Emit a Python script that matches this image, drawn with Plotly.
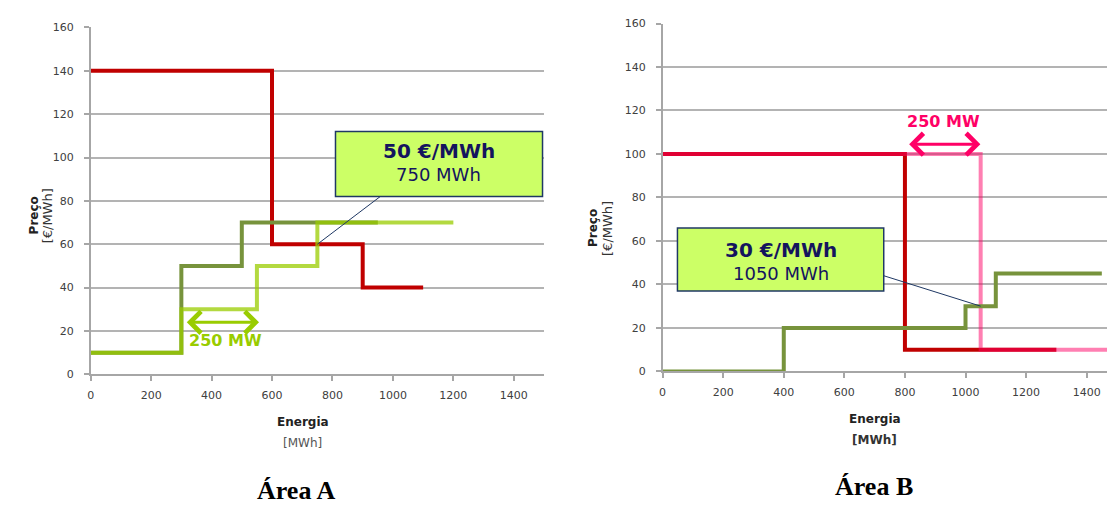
import plotly.graph_objects as go

# ---------------- data ----------------
# Área A (step curves, 'hv' shape: value holds until next break)
a_demand_x = [0, 600, 900, 1100]
a_demand_y = [140, 60, 40, 40]
a_offer_x = [0, 300, 500, 950]
a_offer_y = [10, 50, 70, 70]
a_offer_new_x = [0, 300, 550, 750, 1200]
a_offer_new_y = [10, 30, 50, 70, 70]

# Área B
b_demand_x = [0, 800, 1300]
b_demand_y = [100, 10, 10]
b_demand_new_x = [0, 1050, 1500]
b_demand_new_y = [100, 10, 10]
b_offer_x = [0, 400, 1000, 1100, 1450]
b_offer_y = [0, 20, 30, 45, 45]

x_ticks = [0, 200, 400, 600, 800, 1000, 1200, 1400]
y_ticks = [0, 20, 40, 60, 80, 100, 120, 140, 160]

label_a = ("50 €/MWh", "750 MWh")
label_b = ("30 €/MWh", "1050 MWh")
shift_label = "250 MW"

# ---------------- style ----------------
W, H = 1107, 507
RED = "#C00000"
DKGREEN = "#77933C"
LTGREEN = "rgba(153,204,0,0.75)"
PINK = "rgba(255,0,102,0.5)"
GRID = "#B3B3B3"
AXIS = "#A6A6A6"
TICKC = "#404040"
FONT = "DejaVu Sans"
NAVY = "#14145E"
BOXFILL = "#CCFF66"
BOXLINE = "#1F3864"


def pxx(x):
    return x / W


def pxy(y):
    return 1 - y / H


fig = go.Figure()

lw = 4
fig.add_trace(go.Scatter(x=a_demand_x, y=a_demand_y, mode="lines", line_shape="hv",
                         line=dict(color=RED, width=lw), xaxis="x", yaxis="y"))
fig.add_trace(go.Scatter(x=a_offer_x, y=a_offer_y, mode="lines", line_shape="hv",
                         line=dict(color=DKGREEN, width=lw), xaxis="x", yaxis="y"))
fig.add_trace(go.Scatter(x=a_offer_new_x, y=a_offer_new_y, mode="lines", line_shape="hv",
                         line=dict(color=LTGREEN, width=lw), xaxis="x", yaxis="y"))

fig.add_trace(go.Scatter(x=b_demand_x, y=b_demand_y, mode="lines", line_shape="hv",
                         line=dict(color=RED, width=lw), xaxis="x2", yaxis="y2"))
fig.add_trace(go.Scatter(x=b_demand_new_x, y=b_demand_new_y, mode="lines", line_shape="hv",
                         line=dict(color=PINK, width=lw), xaxis="x2", yaxis="y2"))
fig.add_trace(go.Scatter(x=b_offer_x, y=b_offer_y, mode="lines", line_shape="hv",
                         line=dict(color=DKGREEN, width=lw), xaxis="x2", yaxis="y2"))

xcommon = dict(tickvals=x_ticks, showgrid=False, showline=True, linecolor=AXIS, linewidth=1.5,
               ticks="outside", ticklen=5, tickcolor=AXIS, tickwidth=1.5,
               tickfont=dict(family=FONT, size=11, color=TICKC), zeroline=False,
               ticklabelstandoff=5, fixedrange=True)
ycommon = dict(tickvals=y_ticks, range=[0, 160], showgrid=True, gridcolor=GRID, gridwidth=1.5,
               showline=True, linecolor=AXIS, linewidth=1.5, ticks="outside", ticklen=5,
               tickcolor=AXIS, tickwidth=1.5, tickfont=dict(family=FONT, size=11, color=TICKC),
               zeroline=False, ticklabelstandoff=8, fixedrange=True)

fig.update_layout(
    width=W, height=H, margin=dict(l=0, r=0, t=0, b=0),
    paper_bgcolor="white", plot_bgcolor="white", showlegend=False,
    xaxis=dict(domain=[pxx(87), pxx(542)], range=[0, 1500], anchor="y", **xcommon),
    yaxis=dict(domain=[pxy(378), pxy(22)], anchor="x", **ycommon),
    xaxis2=dict(domain=[pxx(661), 1.0], range=[0, (W - 661) / 0.304], anchor="y2", **xcommon),
    yaxis2=dict(domain=[pxy(375), pxy(18)], anchor="x2", **ycommon),
)

shapes = [
    # Área A label box + connector
    dict(type="line", xref="x", yref="y", x0=958, y0=82, x1=750, y1=60,
         line=dict(color=BOXLINE, width=1)),
    dict(type="rect", xref="x", yref="y", x0=810, x1=1495, y0=82, y1=112,
         fillcolor=BOXFILL, line=dict(color=BOXLINE, width=1.5)),
    # Área B label box + connector
    dict(type="line", xref="x2", yref="y2", x0=730, y0=44, x1=1050, y1=30,
         line=dict(color=BOXLINE, width=1)),
    dict(type="rect", xref="x2", yref="y2", x0=49, x1=730, y0=37, y1=66,
         fillcolor=BOXFILL, line=dict(color=BOXLINE, width=1.5)),
]
fig.update_layout(shapes=shapes)

ann = []
# box texts
ann.append(dict(xref="x", yref="y", x=1152, y=103, text="<b>" + label_a[0] + "</b>", showarrow=False,
                font=dict(family=FONT, size=20, color=NAVY)))
ann.append(dict(xref="x", yref="y", x=1152, y=92, text=label_a[1], showarrow=False,
                font=dict(family=FONT, size=18, color=NAVY)))
ann.append(dict(xref="x2", yref="y2", x=390, y=56, text="<b>" + label_b[0] + "</b>", showarrow=False,
                font=dict(family=FONT, size=20, color=NAVY)))
ann.append(dict(xref="x2", yref="y2", x=390, y=44.8, text=label_b[1], showarrow=False,
                font=dict(family=FONT, size=18, color=NAVY)))

# 250 MW shift arrows
ann.append(dict(xref="x", yref="y", axref="x", ayref="y", x=557, y=24, ax=313, ay=24, text="",
                showarrow=True, arrowside="end+start", arrowhead=4, startarrowhead=4,
                arrowwidth=3, arrowsize=1.4, startarrowsize=1.4, arrowcolor="#99CC00",
                standoff=0, startstandoff=0))
ann.append(dict(xref="x", yref="y", x=445, y=15.7, text="<b>" + shift_label + "</b>", showarrow=False,
                font=dict(family=FONT, size=16, color="#99CC00")))
ann.append(dict(xref="x2", yref="y2", axref="x2", ayref="y2", x=1049, y=104.5, ax=809, ay=104.5, text="",
                showarrow=True, arrowside="end+start", arrowhead=4, startarrowhead=4,
                arrowwidth=3, arrowsize=1.4, startarrowsize=1.4, arrowcolor="#FF0066",
                standoff=0, startstandoff=0))
ann.append(dict(xref="x2", yref="y2", x=928, y=115, text="<b>" + shift_label + "</b>", showarrow=False,
                font=dict(family=FONT, size=16, color="#FF0066")))

# axis titles (paper coords)
def ptext(x, y, text, size, color="#222222", bold=False, angle=0, family=FONT):
    t = "<b>" + text + "</b>" if bold else text
    return dict(xref="paper", yref="paper", x=pxx(x), y=pxy(y), text=t, showarrow=False,
                xanchor="center", yanchor="middle", textangle=angle,
                font=dict(family=family, size=size, color=color))

ann.append(ptext(300, 427, "Energia", 12, bold=True))
ann.append(ptext(300, 449, "[MWh]", 12, color="#555555"))
ann.append(ptext(31, 215, "Preço", 12, bold=True, angle=-90))
ann.append(ptext(44, 215, "[€/MWh]", 13, color="#333333", angle=-90))

ann.append(ptext(874, 424, "Energia", 12, bold=True))
ann.append(ptext(874, 445, "[MWh]", 12, bold=True, color="#333333"))
ann.append(ptext(591, 228, "Preço", 12, bold=True, angle=-90))
ann.append(ptext(605, 228, "[€/MWh]", 13, color="#333333", angle=-90))

ann.append(ptext(293, 497, "Área A", 26, color="black", bold=True, family="Liberation Serif"))
ann.append(ptext(873, 493, "Área B", 26, color="black", bold=True, family="Liberation Serif"))

fig.update_layout(annotations=ann)

fig.write_html("out.html")
